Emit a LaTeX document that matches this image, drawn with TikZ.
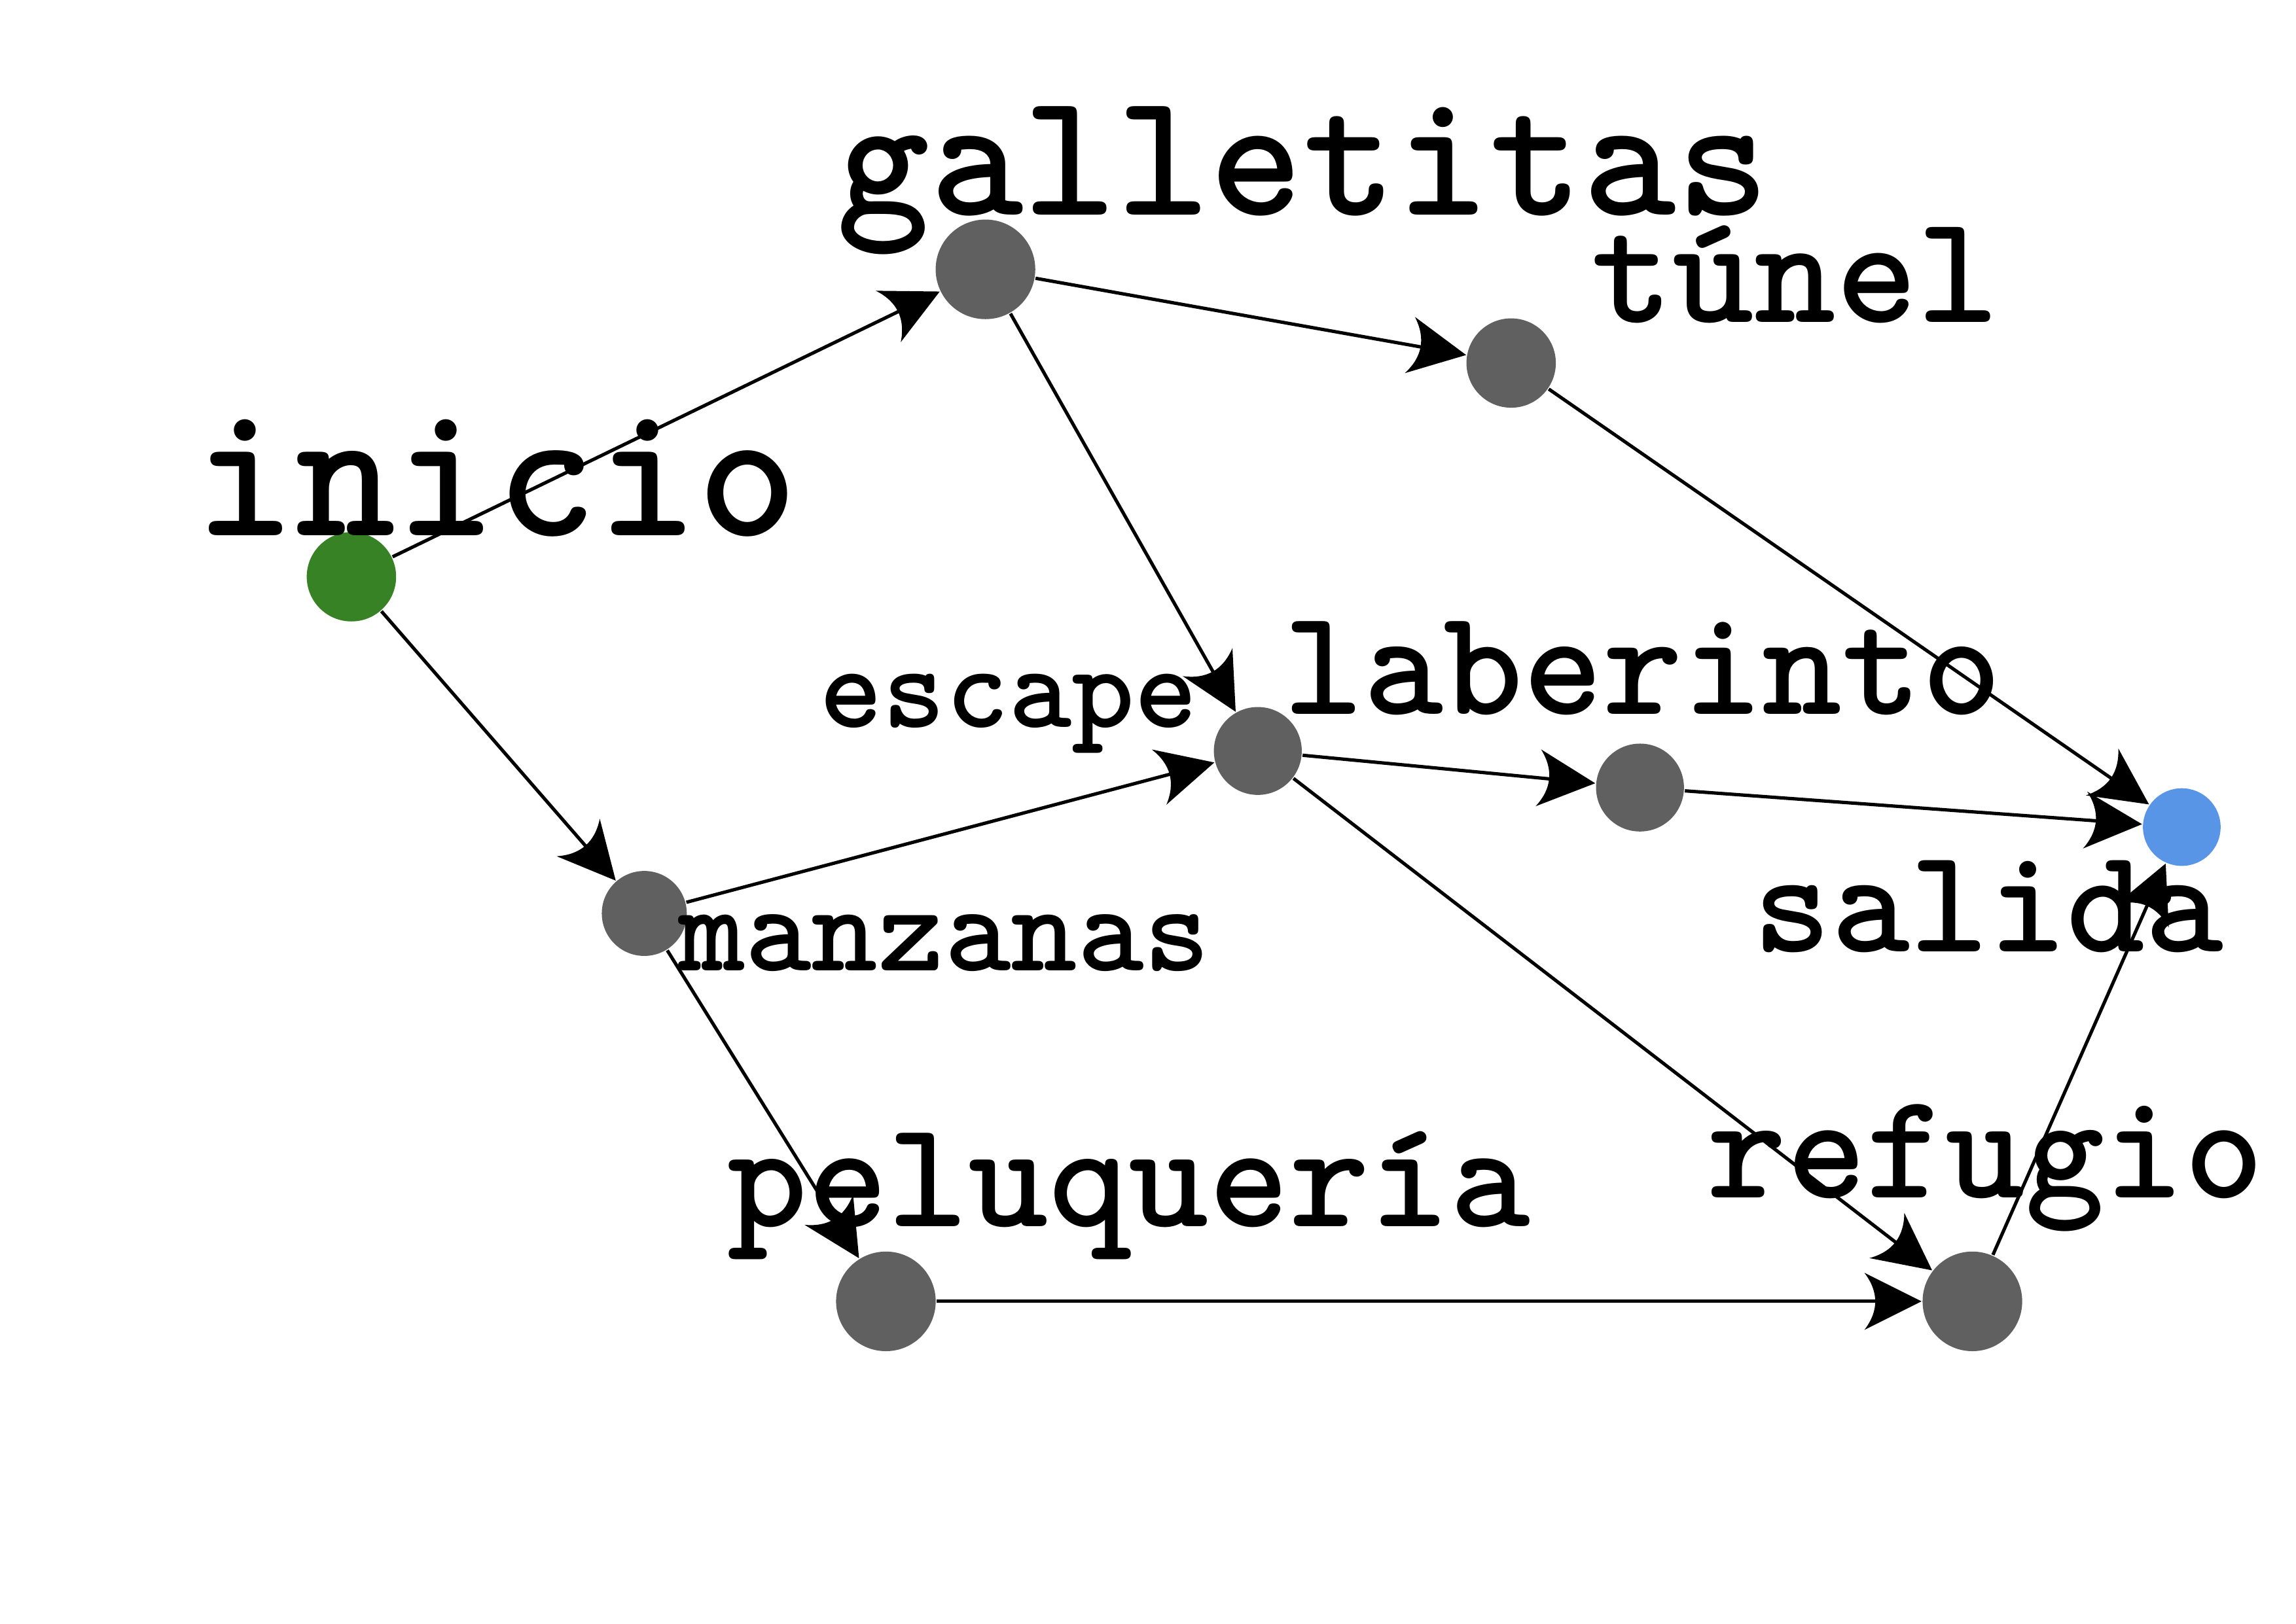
\documentclass[tikz,border=0pt]{standalone}
\usepackage{fontspec}
\usetikzlibrary{arrows.meta}
\definecolor{nodegrey}{RGB}{96,96,96}
\definecolor{startgreen}{RGB}{56,130,38}
\definecolor{endblue}{RGB}{89,149,230}
\pgfdeclarearrow{
  name = CurvyHead,
  parameters = {\the\pgfarrowlength,\the\pgfarrowwidth},
  setup code = {
    \pgfarrowssettipend{0pt}
    \pgfarrowssetbackend{-\pgfarrowlength}
    \pgfarrowssetlineend{-0.75\pgfarrowlength}
    \pgfarrowssavethe\pgfarrowlength
    \pgfarrowssavethe\pgfarrowwidth
  },
  drawing code = {
    \pgfpathmoveto{\pgfpointorigin}
    \pgfpathlineto{\pgfpoint{-\pgfarrowlength}{0.5\pgfarrowwidth}}
    \pgfpathquadraticcurveto{\pgfpoint{-0.62\pgfarrowlength}{0pt}}{\pgfpoint{-\pgfarrowlength}{-0.5\pgfarrowwidth}}
    \pgfpathclose
    \pgfusepathqfill
  },
  defaults = {length=3.9mm, width=3.9mm}
}
\begin{document}
\begin{tikzpicture}[x=0.01cm,y=-0.01cm,
  vtx/.style={circle,fill=nodegrey,draw=none,inner sep=0pt},
  lbl/.style={anchor=base,inner sep=0pt},
  edge/.style={line width=0.65pt,-{CurvyHead[length=3.9mm,width=3.9mm]}}]
\useasboundingbox (0,0) rectangle (1568,1109);
% vertices
\node[vtx,fill=startgreen,minimum size=0.61cm] (ini) at (240,394) {};
\node[vtx,minimum size=0.68cm] (gal) at (673,184) {};
\node[vtx,minimum size=0.61cm] (tun) at (1032,248) {};
\node[vtx,minimum size=0.60cm] (esc) at (859,513) {};
\node[vtx,minimum size=0.60cm] (lab) at (1120,538) {};
\node[vtx,fill=endblue,minimum size=0.53cm] (sal) at (1490,565) {};
\node[vtx,minimum size=0.58cm] (man) at (440,624) {};
\node[vtx,minimum size=0.68cm] (pel) at (605,889) {};
\node[vtx,minimum size=0.68cm] (ref) at (1347,889) {};
% edges
\draw[edge] (ini) -- (gal);
\draw[edge] (ini) -- (man);
\draw[edge] (gal) -- (tun);
\draw[edge] (gal) -- (esc);
\draw[edge] (tun) -- (sal);
\draw[edge] (esc) -- (lab);
\draw[edge] (esc) -- (ref);
\draw[edge] (lab) -- (sal);
\draw[edge] (man) -- (esc);
\draw[edge] (man) -- (pel);
\draw[edge] (pel) -- (ref);
\draw[edge] (ref) -- (sal);
% labels
\node[lbl,font=\ttfamily\bfseries\fontsize{34.5pt}{40pt}\selectfont] (tgal) at (890,147) {galletitas};
\node[lbl,font=\ttfamily\bfseries\fontsize{30.2pt}{36pt}\selectfont] (ttun) at (1226,220) {túnel};
\node[lbl,font=\ttfamily\bfseries\fontsize{37.2pt}{44pt}\selectfont] (tini) at (339,366) {inicio};
\node[lbl,font=\ttfamily\bfseries\fontsize{29.5pt}{35pt}\selectfont] (tlab) at (1122,488) {laberinto};
\node[lbl,font=\ttfamily\bfseries\fontsize{23.3pt}{28pt}\selectfont] (tesc) at (689,497) {escape};
\node[lbl,font=\ttfamily\bfseries\fontsize{24.6pt}{30pt}\selectfont] (tman) at (645,663) {manzanas};
\node[lbl,font=\ttfamily\bfseries\fontsize{29pt}{35pt}\selectfont] (tsal) at (1358,650) {salida};
\node[lbl,font=\ttfamily\bfseries\fontsize{29.7pt}{36pt}\selectfont] (tpel) at (771,838) {peluquería};
\node[lbl,font=\ttfamily\bfseries\fontsize{29.4pt}{35pt}\selectfont] (tref) at (1356,818) {refugio};
\end{tikzpicture}
\end{document}
